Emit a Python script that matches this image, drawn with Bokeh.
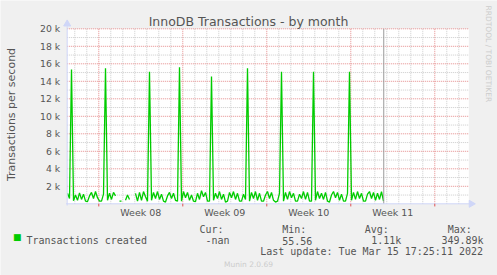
import math
from bokeh.plotting import figure
from bokeh.models import Range1d, FixedTicker, Label
from bokeh.embed import file_html
from bokeh.resources import INLINE

nan = float("nan")

# ---------------- data ----------------
# Transactions created per second (in thousands), one sample every 4 hours
tx_k = [
    1.2, 0.6, 15.35, 0.35, 1.0, 0.4, 1.25, 0.5, 1.1, 0.3,
    0.25, 0.9, 1.3, 0.6, 1.4, 0.7, 0.3, 0.3, 1.1, 15.5,
    0.4, 1.2, 0.5, 1.3, 0.9, nan, 0.3, 0.3, nan, 0.4,
    1.0, 0.5, nan, nan, 1.2, 0.3, 1.3, 0.4, 1.4, 0.8,
    0.3, 15.1, 0.4, 1.3, 0.6, 1.4, 0.5, 1.1, 0.3, 0.2,
    0.9, 1.3, 0.6, 1.2, 0.4, 0.3, 15.6, 0.3, 1.4, 0.7,
    1.3, 0.4, 1.0, 0.3, 0.25, 1.2, 0.5, 1.5, 0.8, 1.3,
    0.3, 0.3, 14.55, 0.4, 1.2, 0.6, 1.4, 0.5, 1.1, 0.2,
    0.3, 1.3, 0.7, 1.4, 0.5, 1.2, 0.3, 0.3, 1.1, 0.5,
    15.5, 0.3, 1.3, 0.6, 1.4, 0.4, 1.2, 0.3, 0.3, 1.0,
    1.4, 0.6, 1.3, 0.4, 0.2, 0.3, 1.2, 15.1, 0.3, 1.3,
    0.5, 1.4, 0.7, 1.2, 0.3, 0.3, 1.1, 0.6, 1.4, 0.5,
    1.3, 0.3, 0.3, 15.1, 0.4, 1.4, 0.6, 1.2, 0.5, 1.3,
    0.3, 0.2, 1.0, 1.4, 0.7, 1.3, 0.4, 1.1, 0.3, 0.3,
    1.2, 15.1, 0.4, 1.3, 0.5, 1.4, 0.6, 1.2, 0.3, 0.3,
    1.1, 1.4, 0.6, 1.3, 0.4, 1.2, 0.5, 1.4, 0.3,
]
SAMPLE_START = 0.025      # days from the left edge of the graph
SAMPLE_STEP = 1.0 / 6.0   # 4 hours, in days
tx_x = [SAMPLE_START + i * SAMPLE_STEP for i in range(len(tx_k))]

week_labels = ["Week 08", "Week 09", "Week 10", "Week 11"]
week_starts = [2.633, 9.633, 16.633, 23.633, 30.633]   # Monday 00:00, days
y_ticks = [2, 4, 6, 8, 10, 12, 14, 16, 18, 20]
y_tick_labels = ["2 k", "4 k", "6 k", "8 k", "10 k", "12 k", "14 k", "16 k", "18 k", "20 k"]

series_name = "Transactions created"
stat_heads = ["Cur:", "Min:", "Avg:", "Max:"]
stat_values = ["-nan", "55.56", "1.11k", "349.89k"]
last_update = "Last update: Tue Mar 15 17:25:11 2022"

X_END = 33.47      # days shown
Y_MAX = 20         # k
NOW_DAY = 26.38

# ---------------- styling ----------------
BG = "#f0f0f0"
TXT = "#555555"
GREEN = "#00cc00"
AXIS = "#cfd6f8"
SANS = "DejaVu Sans"
MONO = "DejaVu Sans Mono"
W, H = 497, 275
X0_PX, PX_PER_DAY = 66.7, 12.0
Y0_PX, PX_PER_K = 203.3, 8.75
LY = 3.0   # vertical correction for the text labels

p = figure(width=W, height=H,
           x_range=Range1d(-X0_PX / PX_PER_DAY, (W - X0_PX) / PX_PER_DAY),
           y_range=Range1d(-(H - Y0_PX) / PX_PER_K, Y0_PX / PX_PER_K),
           min_border_left=0, min_border_right=0, min_border_top=0, min_border_bottom=0,
           output_backend="svg", toolbar_location=None,
           background_fill_color=BG, border_fill_color=BG, outline_line_color=None)
p.xgrid.visible = False
p.ygrid.visible = False

# y axis (drawn at x = 0 inside the canvas)
ya = p.yaxis[0]
ya.fixed_location = 0
ya.bounds = (-0.2, Y_MAX + 0.6)
ya.ticker = FixedTicker(ticks=y_ticks, minor_ticks=[])
ya.major_label_overrides = {t: l for t, l in zip(y_ticks, y_tick_labels)}
ya.axis_line_color = None
ya.major_tick_line_color = None
ya.minor_tick_line_color = None
ya.major_tick_out = 0
ya.major_tick_in = 0
ya.major_label_standoff = 7
ya.major_label_text_font = SANS
ya.major_label_text_font_size = "9.3px"
ya.major_label_text_color = TXT
ya.axis_label = "Transactions per second"
ya.axis_label_text_font = SANS
ya.axis_label_text_font_size = "11px"
ya.axis_label_text_font_style = "normal"
ya.axis_label_text_color = TXT
ya.axis_label_standoff = 19

# x axis: week labels centred on each week (drawn at y = 0)
week_mids = [round(s + 3.5, 3) for s in week_starts[:len(week_labels)]]
xa = p.xaxis[0]
xa.fixed_location = 0
xa.bounds = (0, X_END)
xa.ticker = FixedTicker(ticks=week_mids, minor_ticks=[])
xa.major_label_overrides = {m: l for m, l in zip(week_mids, week_labels)}
xa.axis_line_color = None
xa.major_tick_line_color = None
xa.minor_tick_line_color = None
xa.major_tick_out = 0
xa.major_tick_in = 0
xa.major_label_standoff = 3
xa.major_label_text_font = SANS
xa.major_label_text_font_size = "9.5px"
xa.major_label_text_color = TXT

# canvas
p.quad(left=[0], right=[X_END], bottom=[0], top=[Y_MAX], fill_color="white", line_color=None,
       level="underlay")

# grid
minor_y = [t - 1 for t in y_ticks]
day_lines = [week_starts[0] + k for k in range(-2, 32)
             if 0 < week_starts[0] + k < X_END and k % 7 != 0]
p.segment(x0=[0] * len(minor_y), x1=[X_END] * len(minor_y), y0=minor_y, y1=minor_y,
          line_color="#cccccc", line_width=1, line_dash="1 1")
p.segment(x0=day_lines, x1=day_lines, y0=[0] * len(day_lines), y1=[Y_MAX] * len(day_lines),
          line_color="#cccccc", line_width=1, line_dash="1 1")
p.segment(x0=[0] * len(y_ticks), x1=[X_END] * len(y_ticks), y0=y_ticks, y1=y_ticks,
          line_color="#e58c8c", line_width=1, line_dash="1 1")
p.segment(x0=week_starts, x1=week_starts, y0=[0] * len(week_starts), y1=[Y_MAX] * len(week_starts),
          line_color="#e58c8c", line_width=1, line_dash="1 1")

# data
p.line(tx_x, tx_k, line_color=GREEN, line_width=1.3)

# "now" rule
p.segment(x0=[NOW_DAY], x1=[NOW_DAY], y0=[0], y1=[Y_MAX], line_color="#9a9a9a", line_width=1)

# axis lines, arrows, ticks
p.segment(x0=[0, -0.1], x1=[0, X_END + 0.1], y0=[-0.2, 0], y1=[Y_MAX + 0.3, 0],
          line_color=AXIS, line_width=1)
p.scatter(x=[0], y=[Y_MAX + 0.55], marker="triangle", size=7,
          fill_color=AXIS, line_color=AXIS)
p.scatter(x=[X_END + 0.2], y=[0], marker="triangle", size=7, angle=-math.pi / 2,
          fill_color=AXIS, line_color=AXIS)
p.segment(x0=week_starts, x1=week_starts, y0=[0] * len(week_starts), y1=[-0.3] * len(week_starts),
          line_color="#e05050", line_width=1)

def lab(x, y, text, font=MONO, size="10px", color=TXT, align="left", baseline="alphabetic", angle=0.0):
    p.add_layout(Label(x=x, y=H - y + LY, x_units="screen", y_units="screen", text=text,
                       text_font=font, text_font_size=size, text_color=color,
                       text_align=align, text_baseline=baseline, angle=angle))

# title
lab(248, 24, "InnoDB Transactions - by month", font=SANS, size="12.5px", align="center")
# rrdtool credit
lab(488, 5 + LY, "RRDTOOL / TOBI OETIKER", font=SANS, size="7.5px", color="#cccccc",
    baseline="middle", angle=-math.pi / 2)
# legend
lab(16.7, 239.7, "\u25a0", font=SANS, size="9px", color=GREEN, align="center", baseline="middle")
lab(26, 243.3, series_name)
head_x = [199, 281.7, 364.3, 447.3]
val_x = [205, 281.7, 370.7, 441]
for hx, hd in zip(head_x, stat_heads):
    lab(hx, 231.5, hd)
for vx, vv in zip(val_x, stat_values):
    lab(vx, 243.3, vv)
lab(482.5, 254, last_update, align="right")
lab(248, 267, "Munin 2.0.69", font=SANS, size="7.5px", color="#cccccc", align="center")

open("out.html", "w").write(file_html(p, INLINE))
